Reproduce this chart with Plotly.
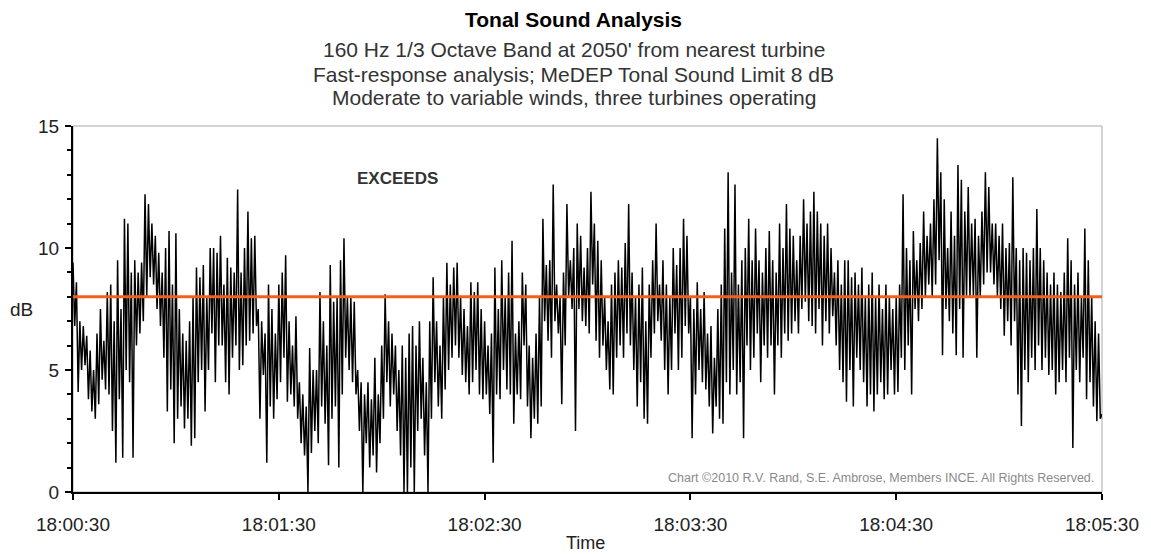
import plotly.graph_objects as go

# ---------------- data ----------------
# per-second peak and trough levels (dB), one list per minute
peaks_min1 = [9.4, 8.6, 7.0, 6.8, 6.4, 5.8, 5.0, 6.5, 7.5, 6.2,
              8.2, 8.5, 7.0, 9.5, 7.5, 11.2, 11.0, 9.0, 9.5, 9.0,
              9.4, 12.2, 11.8, 11.0, 10.5, 9.8, 9.0, 10.0, 10.7, 8.5,
              10.6, 7.5, 6.5, 6.2, 7.0, 8.0, 9.2, 8.8, 9.3, 8.0,
              10.0, 10.0, 9.8, 10.5, 8.5, 9.6, 9.2, 9.0, 12.4, 9.0,
              10.0, 11.5, 10.4, 10.5, 7.5, 7.0, 6.5, 8.5, 7.5, 6.5]
troughs_min1 = [6.8, 4.1, 5.0, 5.2, 3.8, 3.3, 3.0, 3.6, 4.6, 4.2,
                4.0, 2.5, 1.2, 3.8, 1.4, 5.0, 4.5, 1.4, 6.0, 6.5,
                7.0, 8.0, 8.8, 8.5, 7.5, 6.8, 5.5, 3.3, 4.2, 2.0,
                3.0, 3.5, 2.6, 3.0, 1.9, 2.2, 4.5, 5.0, 3.3, 5.0,
                6.5, 4.5, 6.0, 6.0, 4.5, 4.0, 5.5, 6.0, 5.0, 5.2,
                6.0, 6.2, 6.5, 6.8, 3.0, 4.8, 1.2, 3.5, 3.0, 3.8]

peaks_min2 = [8.5, 9.0, 9.7, 7.0, 6.0, 7.2, 4.5, 4.0, 3.5, 5.9,
              5.0, 5.0, 8.2, 7.0, 6.0, 9.3, 7.8, 8.0, 9.5, 10.4,
              8.0, 8.0, 7.8, 5.0, 4.5, 4.0, 4.5, 3.8, 5.5, 4.0,
              6.0, 8.1, 7.0, 6.5, 6.0, 5.0, 6.0, 5.5, 6.5, 6.8,
              6.0, 7.0, 5.5, 4.5, 7.0, 8.8, 7.0, 6.0, 8.0, 9.4,
              8.5, 9.2, 9.4, 8.0, 7.5, 6.8, 8.6, 8.2, 8.6, 7.5]
troughs_min2 = [4.5, 5.5, 3.7, 4.0, 3.5, 3.0, 2.0, 1.5, 0.0, 1.6,
                2.5, 2.0, 3.5, 2.8, 1.1, 3.0, 3.5, 1.0, 4.0, 5.5,
                5.0, 4.5, 4.0, 2.5, 0.0, 2.0, 1.0, 1.5, 0.8, 2.0,
                3.0, 4.5, 3.5, 4.0, 2.5, 1.5, 0.0, 0.0, 1.0, 0.0,
                2.5, 3.0, 1.5, 0.0, 3.0, 4.5, 3.5, 3.0, 4.2, 5.0,
                5.5, 6.0, 5.5, 4.8, 4.5, 4.0, 4.5, 5.0, 4.0, 3.8]

peaks_min3 = [7.0, 6.0, 6.5, 9.2, 7.5, 9.5, 8.0, 9.0, 10.3, 6.5,
              7.0, 9.0, 8.5, 6.0, 5.5, 6.5, 8.0, 11.2, 9.3, 9.5,
              12.6, 8.5, 8.0, 9.0, 11.8, 9.5, 10.0, 11.0, 10.5, 9.2,
              10.0, 12.3, 11.0, 10.3, 9.5, 8.0, 7.0, 8.5, 9.0, 9.5,
              9.2, 10.2, 11.8, 9.0, 8.0, 8.5, 9.2, 7.0, 8.5, 9.5,
              11.0, 8.5, 9.5, 8.5, 8.0, 10.0, 9.3, 10.0, 11.2, 10.5]
troughs_min3 = [4.0, 3.2, 1.2, 4.0, 3.8, 5.0, 4.2, 4.0, 2.8, 4.0,
                3.8, 6.0, 3.5, 2.2, 3.0, 2.8, 3.5, 7.0, 6.2, 5.5,
                7.0, 6.5, 3.6, 6.0, 8.0, 7.5, 2.5, 7.5, 7.0, 6.8,
                6.5, 8.5, 6.2, 5.5, 6.0, 5.0, 4.2, 4.0, 5.5, 6.0,
                5.5, 6.5, 6.0, 5.0, 3.5, 4.5, 3.0, 2.8, 5.5, 6.5,
                7.0, 6.2, 5.0, 4.0, 5.0, 6.5, 5.0, 5.5, 6.8, 6.5]

peaks_min4 = [8.0, 7.5, 8.6, 7.5, 8.2, 6.5, 6.8, 5.5, 7.5, 8.5,
              10.8, 13.1, 9.0, 12.6, 8.5, 9.5, 10.0, 11.2, 9.5, 10.8,
              9.5, 9.0, 10.0, 10.7, 9.5, 9.0, 11.0, 10.0, 11.8, 10.8,
              10.5, 9.5, 10.5, 12.0, 11.0, 11.5, 12.3, 11.5, 11.0, 10.5,
              11.0, 10.0, 9.0, 9.5, 8.5, 9.5, 9.5, 8.8, 9.0, 8.5,
              9.2, 8.0, 8.5, 9.0, 8.0, 8.5, 7.5, 8.5, 8.0, 7.5]
troughs_min4 = [2.2, 4.0, 5.0, 4.5, 4.2, 3.5, 2.4, 3.5, 3.0, 2.8,
                4.5, 4.0, 5.0, 4.0, 4.5, 2.2, 6.0, 5.0, 5.5, 6.5,
                4.5, 6.0, 5.5, 6.0, 4.0, 6.0, 5.5, 6.5, 6.2, 6.5,
                7.0, 6.5, 7.5, 7.8, 7.0, 6.8, 6.5, 7.5, 6.0, 7.0,
                6.5, 7.2, 6.0, 5.0, 4.5, 3.7, 5.0, 3.5, 5.5, 5.0,
                4.5, 3.5, 4.0, 3.3, 4.0, 4.5, 3.8, 4.0, 5.0, 4.0]

peaks_min5 = [8.0, 8.5, 12.2, 10.0, 9.5, 10.7, 9.5, 10.2, 11.5, 10.5,
              11.0, 12.0, 14.5, 13.1, 12.0, 10.0, 11.5, 10.5, 13.4, 12.8,
              11.5, 12.5, 11.0, 11.2, 10.5, 11.5, 13.1, 12.5, 11.0, 11.0,
              10.5, 11.0, 10.0, 10.2, 12.9, 10.0, 9.5, 10.0, 9.8, 9.5,
              10.0, 11.6, 10.0, 9.5, 9.0, 8.5, 9.0, 8.5, 8.2, 9.0,
              10.4, 9.5, 8.5, 9.0, 8.0, 10.8, 9.5, 8.0, 7.0, 6.5]
troughs_min5 = [4.1, 5.5, 5.0, 6.0, 4.0, 7.5, 7.0, 7.5, 8.0, 8.5,
                8.0, 8.5, 9.5, 5.6, 7.5, 7.0, 6.5, 5.6, 7.5, 5.5,
                8.0, 8.0, 8.0, 5.5, 8.0, 8.5, 9.0, 9.0, 8.5, 8.0,
                7.5, 6.4, 7.0, 6.0, 7.0, 4.0, 2.7, 5.0, 4.5, 5.5,
                5.0, 6.0, 5.0, 5.5, 4.8, 5.0, 4.0, 4.5, 5.0, 4.5,
                5.5, 1.8, 5.0, 4.5, 5.5, 3.8, 4.5, 3.5, 2.9, 3.0]
final_db = 3.2

limit_db = 8
tick_seconds = [0, 60, 120, 180, 240, 300]
tick_labels = ["18:00:30", "18:01:30", "18:02:30", "18:03:30", "18:04:30", "18:05:30"]

# ---------------- build series ----------------
peaks = peaks_min1 + peaks_min2 + peaks_min3 + peaks_min4 + peaks_min5
troughs = troughs_min1 + troughs_min2 + troughs_min3 + troughs_min4 + troughs_min5
t, v = [], []
for i, (p, q) in enumerate(zip(peaks, troughs)):
    t += [i, i + 0.5]
    v += [p, q]
t.append(300)
v.append(final_db)

# plot area in window pixels
W, H = 1151, 554
L, R, T, B = 73, 1105, 126, 492
def px(x):
    return (x - L) / (R - L)
def py(y):
    return (B - y) / (B - T)

fig = go.Figure()
fig.add_trace(go.Scatter(x=t, y=v, mode="lines",
                         line=dict(color="#000000", width=1.5), hoverinfo="skip"))
fig.add_trace(go.Scatter(x=[tick_seconds[0], tick_seconds[-1]], y=[limit_db, limit_db],
                         mode="lines", line=dict(color="#F0601E", width=3)))

fig.update_layout(
    width=W, height=H,
    margin=dict(l=L, r=W - R, t=T, b=H - B),
    plot_bgcolor="white", paper_bgcolor="white",
    showlegend=False,
    font=dict(family="Liberation Sans, Arial, sans-serif", color="#222222"),
)
fig.update_xaxes(range=[0, 300], tickvals=tick_seconds, ticktext=tick_labels,
                 showline=True, linecolor="black", linewidth=2,
                 ticks="outside", ticklen=6, tickwidth=2, tickcolor="black",
                 showgrid=False, zeroline=False, tickfont=dict(size=19),
                 ticklabelstandoff=8)
fig.update_yaxes(range=[0, 15], tickvals=[0, 5, 10, 15],
                 showline=True, linecolor="black", linewidth=2,
                 ticks="outside", ticklen=6, tickwidth=2, tickcolor="black",
                 minor=dict(dtick=1, ticks="outside", ticklen=4, tickwidth=1.5, tickcolor="black"),
                 showgrid=False, zeroline=False, tickfont=dict(size=19),
                 ticklabelstandoff=2)

fig.add_shape(type="rect", xref="paper", yref="paper", x0=0, x1=1, y0=0, y1=1,
              line=dict(color="#A8A8A8", width=1), layer="below")

ann = [
    dict(text="<b>Tonal Sound Analysis</b>", x=px(575), y=py(19), size=21, color="black"),
    dict(text="160 Hz 1/3 Octave Band at 2050' from nearest turbine", x=px(575), y=py(49), size=21, color="#333333"),
    dict(text="Fast-response analysis; MeDEP Tonal Sound Limit 8 dB", x=px(575), y=py(74), size=21, color="#333333"),
    dict(text="Moderate to variable winds, three turbines operating", x=px(575), y=py(98), size=21, color="#333333"),
    dict(text="dB", x=px(21), y=py(309), size=19, color="#222222"),
    dict(text="Time", x=px(587), y=py(543), size=18, color="#222222"),
    dict(text="<b>EXCEEDS</b>", x=px(398), y=py(178), size=17, color="#333333"),
]
for a in ann:
    fig.add_annotation(text=a["text"], x=a["x"], y=a["y"], xref="paper", yref="paper",
                       showarrow=False, xanchor="center", yanchor="middle",
                       font=dict(size=a["size"], color=a["color"]))
fig.add_annotation(text="Chart \u00a92010 R.V. Rand, S.E. Ambrose, Members INCE. All Rights Reserved.",
                   x=px(1099), y=py(478), xref="paper", yref="paper", showarrow=False,
                   xanchor="right", yanchor="middle", font=dict(size=12.5, color="#8a8a8a"))

fig.write_html("out.html", config={"displayModeBar": False},
               post_script="document.body.style.margin='0';document.body.style.padding='0';")
